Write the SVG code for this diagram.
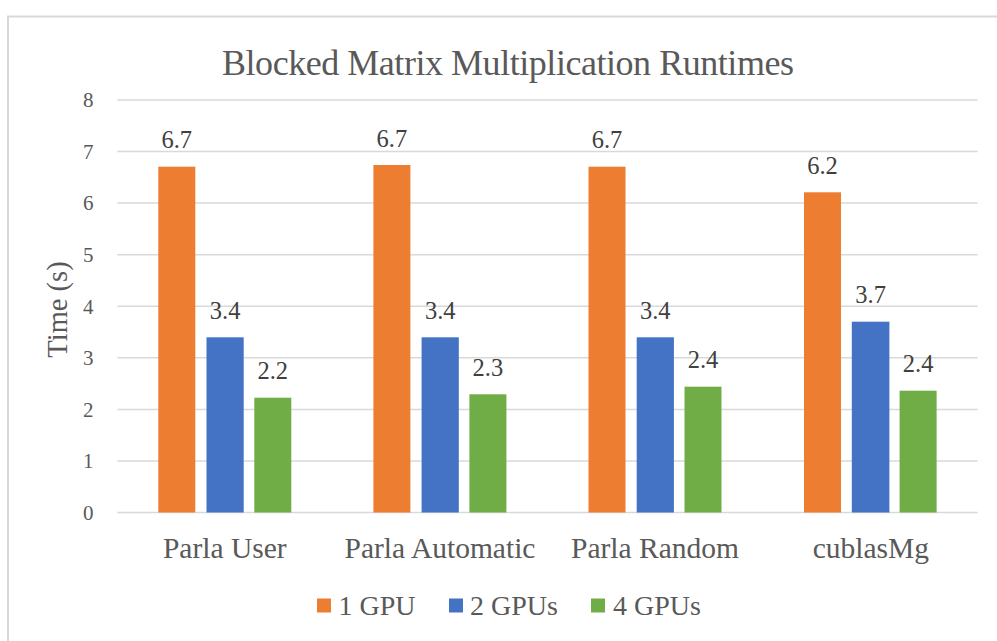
<svg xmlns="http://www.w3.org/2000/svg" width="997" height="641" viewBox="0 0 997 641">
<style>
text{font-family:"Liberation Serif","Times New Roman",serif;fill:#595959}
.grid{stroke:#D9D9D9;stroke-width:1.5}
.tick{font-size:21px;text-anchor:end}
.cat{font-size:29.5px;text-anchor:middle}
.val{font-size:24.5px;text-anchor:middle;fill:#404040}
.leg{font-size:28px}
.o{fill:#ED7D31}
.b{fill:#4472C4}
.g{fill:#70AD47}
</style>
<rect x="0" y="0" width="997" height="641" fill="#fff"/>
<rect x="8" y="16.5" width="1000" height="700" fill="none" stroke="#D9D9D9" stroke-width="2"/>
<text x="508" y="75" font-size="36" text-anchor="middle" textLength="572" lengthAdjust="spacing">Blocked Matrix Multiplication Runtimes</text>
<g id="gridlines">
<line class="grid" x1="117.3" y1="100" x2="977.7" y2="100"/>
<line class="grid" x1="117.3" y1="151.6" x2="977.7" y2="151.6"/>
<line class="grid" x1="117.3" y1="203.1" x2="977.7" y2="203.1"/>
<line class="grid" x1="117.3" y1="254.7" x2="977.7" y2="254.7"/>
<line class="grid" x1="117.3" y1="306.3" x2="977.7" y2="306.3"/>
<line class="grid" x1="117.3" y1="357.8" x2="977.7" y2="357.8"/>
<line class="grid" x1="117.3" y1="409.4" x2="977.7" y2="409.4"/>
<line class="grid" x1="117.3" y1="460.9" x2="977.7" y2="460.9"/>
<line class="grid" x1="117.3" y1="512.5" x2="977.7" y2="512.5"/>
</g>
<g id="yaxis">
<text class="tick" x="93.5" y="107.3">8</text>
<text class="tick" x="93.5" y="158.9">7</text>
<text class="tick" x="93.5" y="210.4">6</text>
<text class="tick" x="93.5" y="262">5</text>
<text class="tick" x="93.5" y="313.6">4</text>
<text class="tick" x="93.5" y="365.1">3</text>
<text class="tick" x="93.5" y="416.7">2</text>
<text class="tick" x="93.5" y="468.2">1</text>
<text class="tick" x="93.5" y="519.8">0</text>
<text transform="translate(67 309.5) rotate(-90)" font-size="28.5" text-anchor="middle">Time (s)</text>
</g>
<g id="cat-parla-user">
<rect class="o" x="158.3" y="166.7" width="37" height="345.8"/>
<rect class="b" x="206.5" y="337.3" width="37.2" height="175.2"/>
<rect class="g" x="254.3" y="397.7" width="37" height="114.8"/>
<text class="val" x="176.8" y="148.2">6.7</text>
<text class="val" x="225.1" y="318.8">3.4</text>
<text class="val" x="272.8" y="379.2">2.2</text>
<text class="cat" x="224.8" y="557.5">Parla User</text>
</g>
<g id="cat-parla-automatic">
<rect class="o" x="373.4" y="165" width="37" height="347.5"/>
<rect class="b" x="421.6" y="337.3" width="37.2" height="175.2"/>
<rect class="g" x="469.4" y="394.3" width="37" height="118.2"/>
<text class="val" x="391.9" y="146.5">6.7</text>
<text class="val" x="440.2" y="318.8">3.4</text>
<text class="val" x="487.9" y="375.8">2.3</text>
<text class="cat" x="440" y="557.5">Parla Automatic</text>
</g>
<g id="cat-parla-random">
<rect class="o" x="588.5" y="166.7" width="37" height="345.8"/>
<rect class="b" x="636.7" y="337.3" width="37.2" height="175.2"/>
<rect class="g" x="684.5" y="386.7" width="37" height="125.8"/>
<text class="val" x="607" y="148.2">6.7</text>
<text class="val" x="655.3" y="318.8">3.4</text>
<text class="val" x="703" y="368.2">2.4</text>
<text class="cat" x="655" y="557.5">Parla Random</text>
</g>
<g id="cat-cublasmg">
<rect class="o" x="804" y="192.3" width="37" height="320.2"/>
<rect class="b" x="851.8" y="321.7" width="37.6" height="190.8"/>
<rect class="g" x="899.6" y="390.7" width="37" height="121.8"/>
<text class="val" x="822.5" y="173.8">6.2</text>
<text class="val" x="870.6" y="303.2">3.7</text>
<text class="val" x="918.1" y="372.2">2.4</text>
<text class="cat" x="870.8" y="557.5">cublasMg</text>
</g>
<g id="legend">
<rect class="o" x="317" y="598.5" width="14" height="14"/>
<text class="leg" x="338.5" y="614.5">1 GPU</text>
<rect class="b" x="449" y="598.5" width="14" height="14"/>
<text class="leg" x="470" y="614.5">2 GPUs</text>
<rect class="g" x="591" y="598.5" width="14" height="14"/>
<text class="leg" x="613" y="614.5">4 GPUs</text>
</g>
</svg>
